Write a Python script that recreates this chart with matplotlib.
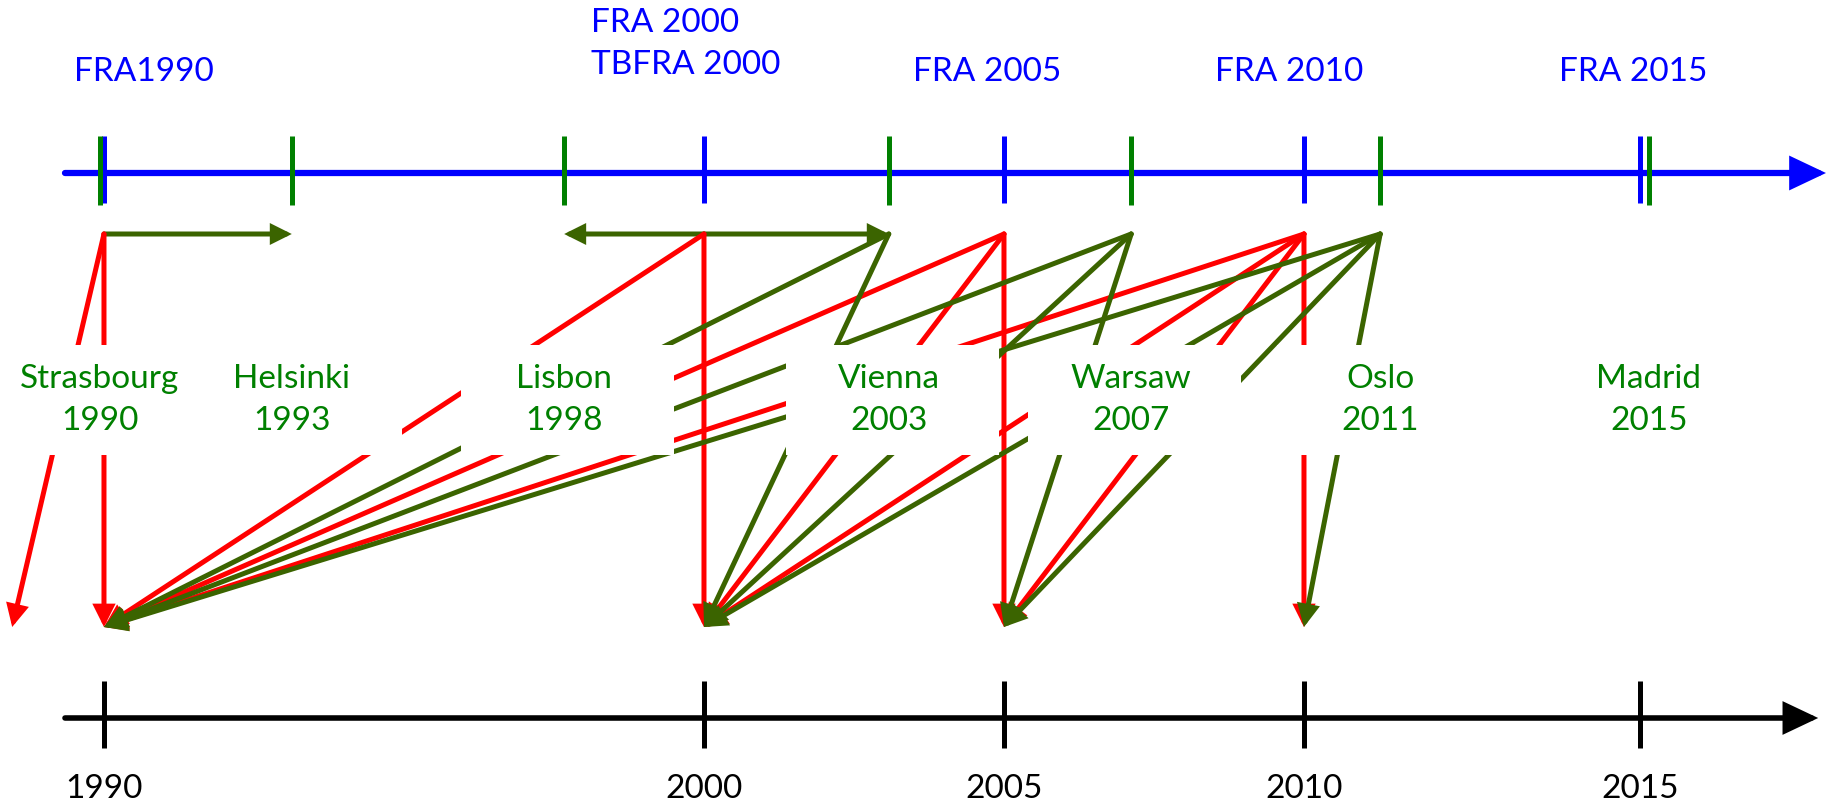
'''
FRA timeline: assessments, meetings and the data years they report on
'''

import matplotlib
matplotlib.use('Agg')
import matplotlib.pyplot as plt
from matplotlib.patches import FancyArrowPatch, Rectangle

plt.rcParams['font.family'] = ['Lato', 'DejaVu Sans']

# FRA assessments (blue ticks on the top axis)
fra_labels = ['FRA1990', 'FRA 2000\nTBFRA 2000', 'FRA 2005', 'FRA 2010', 'FRA 2015']
fra_pos = [1990.0, 2000.0, 2005.0, 2010.0, 2015.6]
fra_label_pos = [1990.67, 1998.12, 2004.72, 2009.75, 2015.48]
fra_label_ha = ['center', 'left', 'center', 'center', 'center']

# ministerial meetings (green ticks on the top axis)
meeting_cities = ['Strasbourg', 'Helsinki', 'Lisbon', 'Vienna', 'Warsaw', 'Oslo', 'Madrid']
meeting_years = ['1990', '1993', '1998', '2003', '2007', '2011', '2015']
meeting_pos = [1989.93, 1993.13, 1997.67, 2003.08, 2007.12, 2011.27, 2015.75]

# reference years (black axis)
year_labels = ['1990', '2000', '2005', '2010', '2015']
year_pos = [1990.0, 2000.0, 2005.0, 2010.0, 2015.6]

# links (from, to)
top_links = [(1990.0, 1993.13), (2000.0, 1997.67), (2000.0, 2003.08)]
red_links = [(1990.0, 1988.47), (1990.0, 1990.0),
             (2000.0, 1990.0), (2000.0, 2000.0),
             (2005.0, 1990.0), (2005.0, 2000.0), (2005.0, 2005.0),
             (2010.0, 1990.0), (2010.0, 2000.0), (2010.0, 2005.0), (2010.0, 2010.0)]
green_links = [(2003.08, 1990.0), (2003.08, 2000.0),
               (2007.12, 1990.0), (2007.12, 2000.0), (2007.12, 2005.0),
               (2011.27, 1990.0), (2011.27, 2000.0), (2011.27, 2005.0), (2011.27, 2010.0)]

# vertical levels of the drawing (rows, top = 0)
Y_FRA_AXIS = 173
Y_LINK_TOP = 234
Y_LINK_BOTTOM = 627
Y_YEAR_AXIS = 718
Y_BOX_TOP, Y_BOX_BOTTOM = 345, 455

BLUE = '#0000FF'
RED = '#FF0000'
GREEN = '#008000'
DARK_GREEN = '#3B6400'

fig = plt.figure(figsize=(18.33, 8.08), dpi=100)
ax = fig.add_axes([0, 0, 1, 1])
ax.set_xlim(1988.267, 2018.817)
ax.set_ylim(808, 0)
ax.axis('off')


def arrow(x0, y0, x1, y1, color, lw, hl, hw, z=2):
    a = FancyArrowPatch((x0, y0), (x1, y1),
                        arrowstyle='-|>,head_length=%s,head_width=%s' % (hl, hw),
                        mutation_scale=1, color=color, lw=lw,
                        shrinkA=0, shrinkB=0, zorder=z, joinstyle='miter')
    ax.add_patch(a)


# top axis
arrow(1989.35, Y_FRA_AXIS, 2018.70, Y_FRA_AXIS, BLUE, 4.5, 19, 9)
ax.vlines(fra_pos, 136, 203, color=BLUE, lw=3.6, zorder=3)
ax.vlines(meeting_pos, 136, 205, color=GREEN, lw=3.6, zorder=3)

# bottom axis
arrow(1989.35, Y_YEAR_AXIS, 2018.57, Y_YEAR_AXIS, 'black', 4.0, 19, 9)
ax.vlines(year_pos, 681, 748, color='black', lw=3.6, zorder=3)

for lab, x, ha in zip(fra_labels, fra_label_pos, fra_label_ha):
    y = 44 if '\n' in lab else 72
    ax.text(x, y, lab, color=BLUE, fontsize=24, ha=ha, va='center',
            multialignment='left', linespacing=1.5, zorder=5)

for lab, x in zip(year_labels, year_pos):
    ax.text(x, 789, lab, color='black', fontsize=24, ha='center', va='center', zorder=5)

# arrows between the axes
for x0, x1 in top_links:
    arrow(x0, Y_LINK_TOP, x1, Y_LINK_TOP, DARK_GREEN, 3.6, 10, 5)
for x0, x1 in red_links:
    arrow(x0, Y_LINK_TOP, x1, Y_LINK_BOTTOM, RED, 3.6, 11, 5.5)
for x0, x1 in green_links:
    arrow(x0, Y_LINK_TOP, x1, Y_LINK_BOTTOM, DARK_GREEN, 3.6, 11, 5.5)

# meeting labels in white boxes that hide the arrows behind them
for city, yr, x in zip(meeting_cities, meeting_years, meeting_pos):
    ax.add_patch(Rectangle((x - 1.717, Y_BOX_TOP), 3.55, Y_BOX_BOTTOM - Y_BOX_TOP,
                           facecolor='white', edgecolor='none', zorder=4))
    ax.text(x, 400, city + '\n' + yr, color=GREEN, fontsize=24, ha='center',
            va='center', linespacing=1.5, zorder=5)

fig.savefig('out.png', dpi=100)
